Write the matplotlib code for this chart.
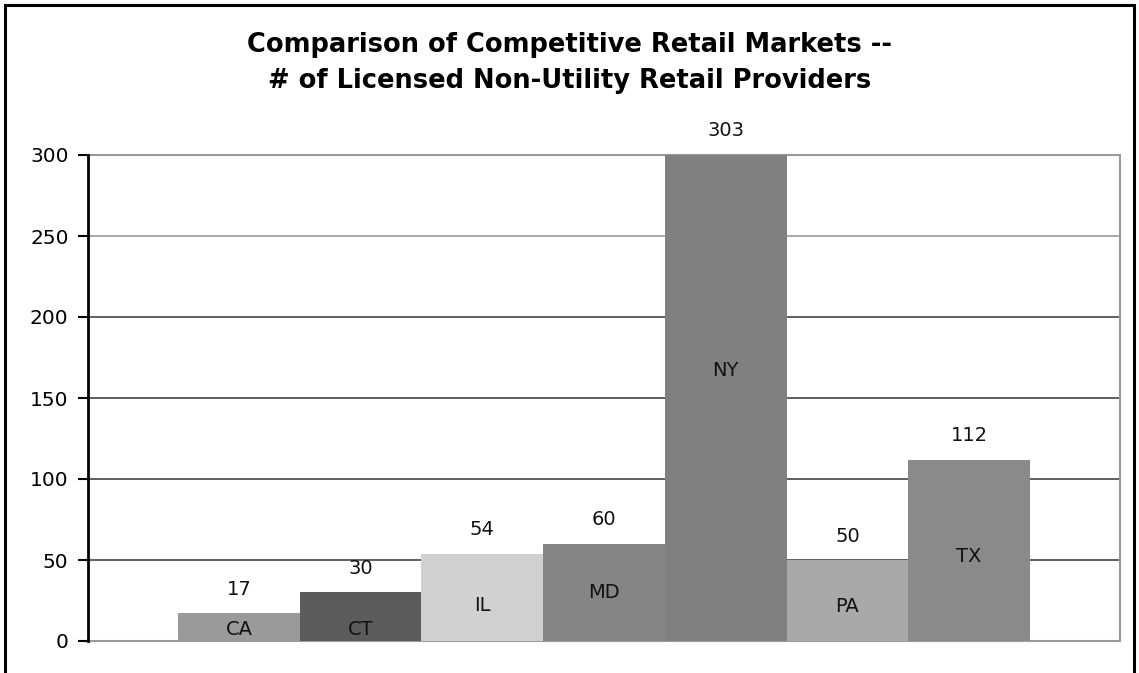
import matplotlib
matplotlib.use("Agg")
import matplotlib.pyplot as plt
from matplotlib.patches import Rectangle
import matplotlib.transforms as mtransforms

states = ["CA", "CT", "IL", "MD", "NY", "PA", "TX"]
providers = [17, 30, 54, 60, 303, 50, 112]
state_label_y = [7, 7, 22, 30, 167, 21, 52]
bar_colors = ["#9a9a9a", "#5c5c5c", "#d0d0d0", "#858585", "#808080", "#a9a9a9", "#8a8a8a"]
yticks = [0, 50, 100, 150, 200, 250, 300]

W, H = 1139, 673
fig = plt.figure(figsize=(W / 100, H / 100), dpi=100)
fig.patch.set_facecolor("white")

# figure frame (bottom edge cut off in the original)
fig.add_artist(Rectangle((5 / W, -0.05), (W - 10) / W, 1.05 - 5 / H, transform=fig.transFigure,
                         fill=False, edgecolor="black", linewidth=2.2))

ax = fig.add_axes([88 / W, 1 - 641 / H, (1120 - 88) / W, (641 - 155) / H])
x = list(range(len(states)))
ax.bar(x, providers, width=1.0, color=bar_colors, edgecolor="none", zorder=3)
ax.set_xlim(-1.24, len(states) - 1 + 1.24)
ax.set_ylim(0, 300)
ax.set_yticks(yticks)
ax.set_yticklabels([str(t) for t in yticks], fontsize=14.5)
ax.set_xticks([])
ax.tick_params(axis="y", direction="out", length=7, width=1.5, color="black", pad=7)

for yv in yticks[1:-1]:
    ax.axhline(yv, color="#444444" if yv < 250 else "#999999", linewidth=1.2, zorder=1)

for side in ["top", "right", "bottom"]:
    ax.spines[side].set_color("#999999")
    ax.spines[side].set_linewidth(1.5)
ax.spines["left"].set_color("black")
ax.spines["left"].set_linewidth(2)
ax.spines["left"].set_zorder(5)

offset = mtransforms.offset_copy(ax.transData, fig=fig, x=0, y=24, units="dots")
for xi, v in zip(x, providers):
    ax.text(xi, min(v, 300), str(v), transform=offset, ha="center", va="center",
            fontsize=14, color="#111111", clip_on=False, zorder=6)
for xi, s, ly in zip(x, states, state_label_y):
    ax.text(xi, ly, s, ha="center", va="center", fontsize=14, color="#111111", zorder=6)

fig.text(0.5, 1 - 45 / H, "Comparison of Competitive Retail Markets --", ha="center", va="center",
         fontsize=18.5, fontweight="bold")
fig.text(0.5, 1 - 81 / H, "# of Licensed Non-Utility Retail Providers", ha="center", va="center",
         fontsize=18.5, fontweight="bold")

fig.savefig("out.png", dpi=100)
